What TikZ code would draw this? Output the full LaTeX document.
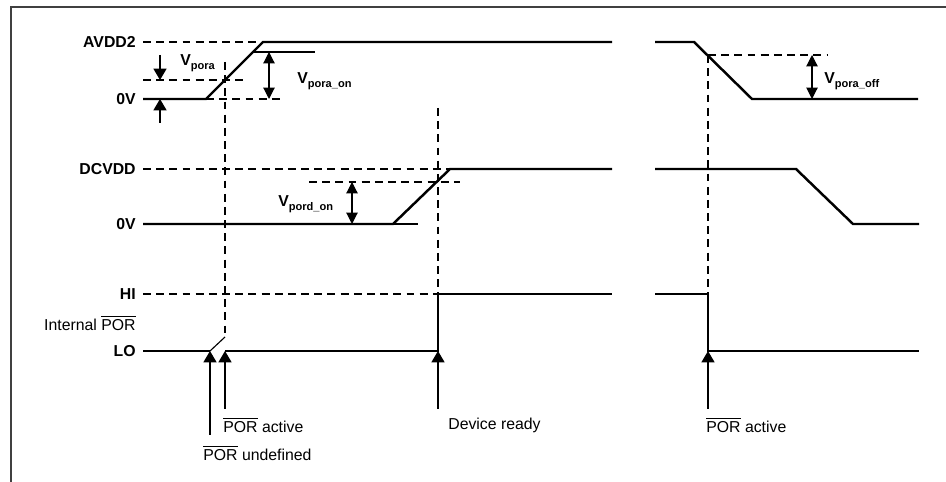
\documentclass[tikz,border=0pt]{standalone}
\usepackage{fontspec}
\setmainfont{Liberation Sans}
\usetikzlibrary{arrows.meta}
\newcommand\Vsub[1]{V\raisebox{-2.2pt}{\fontsize{6.3}{7}\selectfont #1}}
\newcommand\nPOR{\ensuremath{\overline{\mbox{POR}}}}
\tikzset{
  frame/.style={line width=1.1pt,draw=black!75},
  sig/.style={line width=1.4pt},
  fine/.style={line width=0.65pt},
  guide/.style={line width=0.65pt,dash pattern=on 4.5pt off 3pt},
  dim/.style={line width=0.65pt,{Triangle[length=6.5pt,width=6.5pt]}-{Triangle[length=6.5pt,width=6.5pt]}},
  tip/.style={line width=0.65pt,-{Triangle[length=6.5pt,width=7.5pt]}},
  lvl/.style={font=\fontsize{9}{11}\selectfont\bfseries,anchor=east,inner sep=0},
  lab/.style={font=\fontsize{9}{11}\selectfont,inner sep=0},
  vlab/.style={font=\fontsize{9}{11}\selectfont\bfseries,anchor=west,inner sep=0},
}
\begin{document}
\begin{tikzpicture}[x=0.02cm,y=-0.02cm]
  \useasboundingbox (0,0) rectangle (946,482);
  \draw[frame] (946,7) -- (11,7) -- (11,482);

  % AVDD2 rising edge
  \coordinate (a0) at (143,99); \coordinate (a1) at (206,99);
  \coordinate (a2) at (263,42); \coordinate (a3) at (612,42);
  \node[lvl] (lAvdd) at (136,42) {AVDD2};
  \node[lvl] (lAzero) at (136,99) {0V};
  \draw[guide] (143,42) -- (a2);
  \draw[guide] (143,80) -- (243,80);
  \draw[guide] (a1) -- (285,99);
  \draw[fine] (253,52) -- (315,52);
  \draw[sig] (a0) -- (a1) -- (a2) -- (a3);
  \coordinate (pa) at (160,55); \coordinate (pb) at (160,80);
  \coordinate (pc) at (160,123); \coordinate (pd) at (160,99);
  \draw[tip] (pa) -- (pb);
  \draw[tip] (pc) -- (pd);
  \node[vlab] (lPora) at (180,63) {\Vsub{pora}};
  \coordinate (on1) at (269,52); \coordinate (on2) at (269,99);
  \draw[dim] (on1) -- (on2);
  \node[vlab] (lPoraOn) at (297,81) {\Vsub{pora\_on}};

  % AVDD2 falling edge
  \coordinate (b0) at (655,42); \coordinate (b1) at (694,42);
  \coordinate (b2) at (752,99); \coordinate (b3) at (918,99);
  \draw[sig] (b0) -- (b1) -- (b2) -- (b3);
  \draw[guide] (708,55) -- (828,55);
  \coordinate (off1) at (812,55); \coordinate (off2) at (812,99);
  \draw[dim] (off1) -- (off2);
  \node[vlab] (lPoraOff) at (824,81) {\Vsub{pora\_off}};

  % DCVDD
  \coordinate (d0) at (143,224); \coordinate (d1) at (393,224);
  \coordinate (d2) at (450,169); \coordinate (d3) at (612,169);
  \node[lvl] (lDcvdd) at (136,169) {DCVDD};
  \node[lvl] (lDzero) at (136,224) {0V};
  \draw[guide] (143,169) -- (d2);
  \draw[guide] (309,182) -- (460,182);
  \draw[fine] (d1) -- (418,224);
  \draw[sig] (d0) -- (d1) -- (d2) -- (d3);
  \coordinate (pd1) at (352,182); \coordinate (pd2) at (352,224);
  \draw[dim] (pd1) -- (pd2);
  \node[vlab] (lPord) at (278,204) {\Vsub{pord\_on}};
  \coordinate (e0) at (655,169); \coordinate (e1) at (796,169);
  \coordinate (e2) at (853,224); \coordinate (e3) at (919,224);
  \draw[sig] (e0) -- (e1) -- (e2) -- (e3);

  % internal POR
  \node[lvl] (lHi) at (136,294) {HI};
  \node[lab,anchor=east] (lInt) at (136,323) {Internal \nPOR};
  \node[lvl] (lLo) at (136,351) {LO};
  \draw[guide] (143,294) -- (438,294);
  \coordinate (r0) at (143,351); \coordinate (r1) at (210,351);
  \coordinate (r2) at (225,337); \coordinate (r3) at (225,351);
  \coordinate (r4) at (438,351); \coordinate (r5) at (438,294);
  \coordinate (r6) at (612,294);
  \draw[sig] (r0) -- (r1);
  \draw[fine] (r1) -- (r2);
  \draw[sig] (r3) -- (r4) -- (r5) -- (r6);
  \coordinate (s0) at (655,294); \coordinate (s1) at (708,294);
  \coordinate (s2) at (708,351); \coordinate (s3) at (919,351);
  \draw[sig] (s0) -- (s1) -- (s2) -- (s3);

  % time markers
  \draw[guide] (225,62) -- (r2);
  \draw[guide] (438,108) -- (r5);
  \draw[guide] (708,55) -- (s1);
  \coordinate (t1) at (210,435); \coordinate (t2) at (225,409);
  \coordinate (t3) at (438,409); \coordinate (t4) at (708,409);
  \draw[tip] (t1) -- (r1);
  \draw[tip] (t2) -- (r3);
  \draw[tip] (t3) -- (r4);
  \draw[tip] (t4) -- (s2);
  \node[lab,anchor=west] (lAct) at (223,425) {\nPOR{} active};
  \node[lab,anchor=west] (lUndef) at (203,453) {\nPOR{} undefined};
  \node[lab,anchor=west] (lReady) at (448,425) {Device ready};
  \node[lab,anchor=west] (lAct2) at (706,425) {\nPOR{} active};
\end{tikzpicture}
\end{document}
